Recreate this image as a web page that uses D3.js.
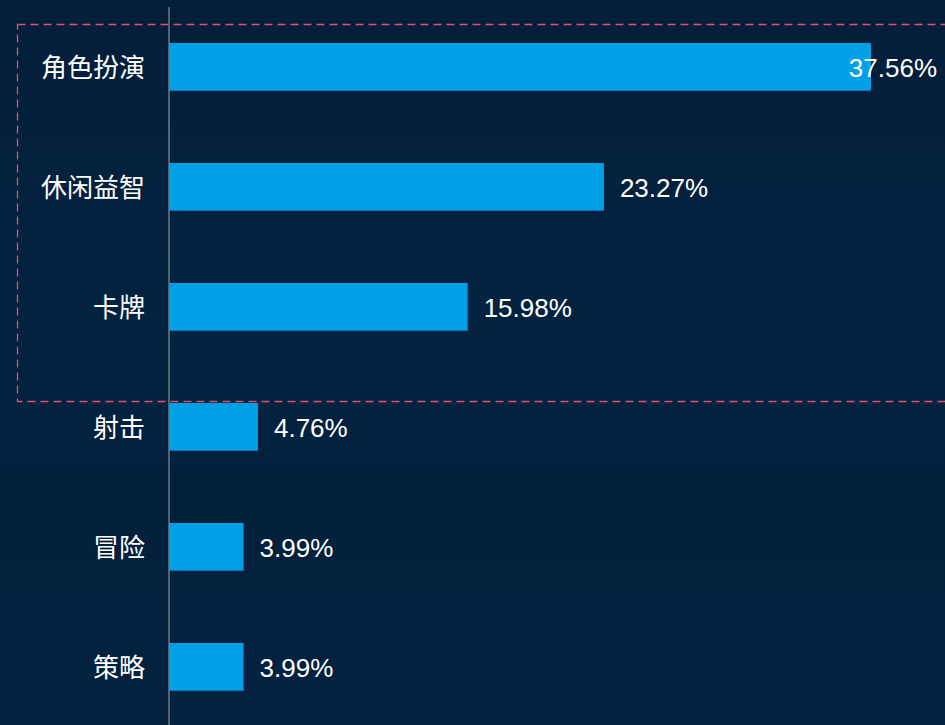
<!DOCTYPE html>
<html>
<head>
<meta charset="utf-8">
<script src="https://cdn.jsdelivr.net/npm/d3@7"></script>
<style>
  html, body { margin: 0; padding: 0; background: #04203d; }
  svg { display: block; }
</style>
</head>
<body>
<svg id="chart"></svg>
<script>
// game genres and their share (%)
var categories = ["角色扮演", "休闲益智", "卡牌", "射击", "冒险", "策略"];
var shares = [37.56, 23.27, 15.98, 4.76, 3.99, 3.99];
var highlighted = ["角色扮演", "休闲益智", "卡牌"];

var W = 945, H = 725;
var svg = d3.select("#chart").attr("width", W).attr("height", H);

// background, dark navy with a soft vertical shading
var defs = svg.append("defs");
var bg = defs.append("linearGradient").attr("id", "bg")
  .attr("x1", 0).attr("y1", 0).attr("x2", 0).attr("y2", 1);
bg.append("stop").attr("offset", "0%").attr("stop-color", "#041e3a");
bg.append("stop").attr("offset", "45%").attr("stop-color", "#032340");
bg.append("stop").attr("offset", "75%").attr("stop-color", "#03203c");
bg.append("stop").attr("offset", "100%").attr("stop-color", "#042341");
svg.append("rect").attr("width", W).attr("height", H).attr("fill", "url(#bg)");

var data = categories.map((c, i) => ({ name: c, value: shares[i] }));

var x0 = 169;
var x = d3.scaleLinear()
  .domain([0, d3.max(shares)])
  .range([x0, 871]);

var y = d3.scaleBand()
  .domain(categories)
  .range([7, 727])
  .paddingInner(0.6)
  .paddingOuter(0.3);

// highlight box round the top three
var last = highlighted[highlighted.length - 1];
var boxTop = y(highlighted[0]) - 19;
var boxBottom = y(categories[categories.indexOf(last) + 1]) - 2;
svg.append("rect")
  .attr("x", 17.5).attr("y", boxTop + 0.5)
  .attr("width", W).attr("height", boxBottom - boxTop)
  .attr("fill", "none")
  .attr("stroke", "#d9546c")
  .attr("stroke-width", 1.3)
  .attr("stroke-dasharray", "8,5");

// bars
var g = svg.append("g");
g.selectAll(".bar").data(data).enter().append("rect")
  .attr("class", "bar")
  .attr("x", x(0))
  .attr("y", d => y(d.name))
  .attr("width", d => x(d.value) - x(0))
  .attr("height", y.bandwidth())
  .attr("fill", "#00a0e6");

g.selectAll(".edge").data(data).enter().append("rect")
  .attr("class", "edge")
  .attr("x", x(0))
  .attr("y", d => y(d.name) + y.bandwidth() - 1)
  .attr("width", d => x(d.value) - x(0))
  .attr("height", 1)
  .attr("fill", "#0a78b8");

// y axis line
svg.append("line")
  .attr("x1", x0).attr("x2", x0)
  .attr("y1", 7).attr("y2", H)
  .attr("stroke", "#6f7883")
  .attr("stroke-width", 1.5);

// category labels
svg.selectAll(".cat").data(data).enter().append("text")
  .attr("class", "cat")
  .attr("x", x0 - 24)
  .attr("y", d => y(d.name) + y.bandwidth() / 2)
  .attr("dy", "0.37em")
  .attr("text-anchor", "end")
  .attr("fill", "#ffffff")
  .style("font-family", "'Noto Sans CJK SC', sans-serif")
  .style("font-size", "26px")
  .text(d => d.name);

// value labels, pushed back inside when they would run off the edge
svg.selectAll(".val").data(data).enter().append("text")
  .attr("class", "val")
  .attr("y", d => y(d.name) + y.bandwidth() / 2)
  .attr("dy", "0.38em")
  .attr("fill", "#ffffff")
  .style("font-family", "'Liberation Sans', Arial, sans-serif")
  .style("font-size", "26px")
  .text(d => d3.format(".2f")(d.value) + "%")
  .attr("x", function(d) {
    var w = this.getComputedTextLength();
    return Math.min(x(d.value) + 16, W - 8 - w);
  });
</script>
</body>
</html>
